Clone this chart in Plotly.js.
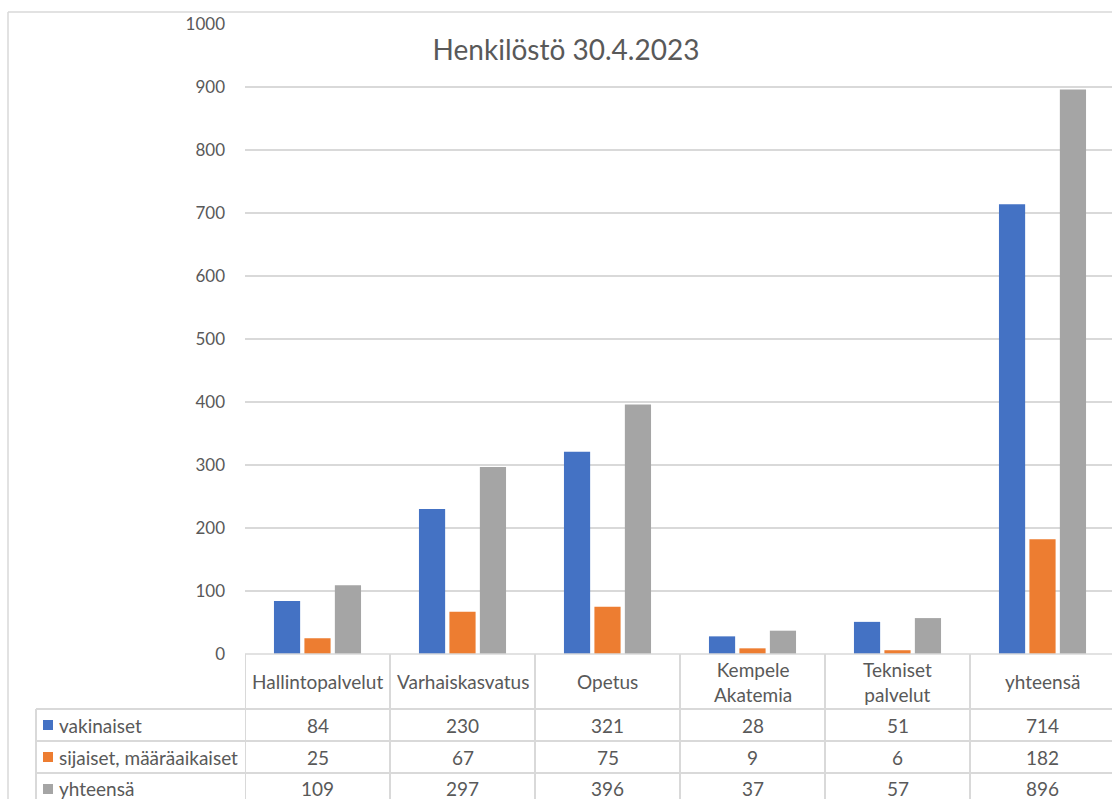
<!DOCTYPE html>
<html>
<head>
<meta charset="utf-8">
<script src="https://cdn.plot.ly/plotly-3.0.1.min.js"></script>
<style>html,body{margin:0;padding:0;background:#fff;}#chart{width:1112px;height:799px;}</style>
</head>
<body>
<div id="chart"></div>
<script>
const categories = ["Hallintopalvelut", "Varhaiskasvatus", "Opetus", "Kempele Akatemia", "Tekniset palvelut", "yhteensä"];
const headerLabels = ["Hallintopalvelut", "Varhaiskasvatus", "Opetus", "Kempele<br>Akatemia", "Tekniset<br>palvelut", "yhteensä"];
const seriesNames = ["vakinaiset", "sijaiset, määräaikaiset", "yhteensä"];
const vakinaiset = [84, 230, 321, 28, 51, 714];
const sijaiset = [25, 67, 75, 9, 6, 182];
const yhteensa = [109, 297, 396, 37, 57, 896];
const seriesColors = ["#4472C4", "#ED7D31", "#A5A5A5"];
const yTicks = [0, 100, 200, 300, 400, 500, 600, 700, 800, 900, 1000];

const seriesValues = [vakinaiset, sijaiset, yhteensa];

// layout geometry (pixels)
const W = 1112, H = 799;
const L = 245, T = 24, B = 145;
const plotW = W - L, plotH = H - T - B;
const catW = 145;
const FONT = "Lato, 'Open Sans', sans-serif";
const TXT = "#595959";
const LINE = "#d9d9d9";
const TFS = 19;

function pxToX(px) { return -0.5 + (px - L) / catW; }
function pxToPaperX(px) { return (px - L) / plotW; }
function pyToPaperY(py) { return (H - B - py) / plotH; }

const traces = seriesNames.map((name, s) => ({
  type: "bar",
  name: name,
  x: categories.map((c, i) => i),
  y: seriesValues[s],
  marker: { color: seriesColors[s] },
  hoverinfo: "y"
}));

const shapes = [];
const annotations = [];
function hline(py, x0, x1, w) {
  shapes.push({ type: "line", xref: "paper", yref: "paper",
    x0: pxToPaperX(x0), x1: pxToPaperX(x1), y0: pyToPaperY(py), y1: pyToPaperY(py),
    line: { color: LINE, width: w || 1.5 } });
}
function vlineData(xd, py0, py1, w) {
  shapes.push({ type: "line", xref: "x", yref: "paper",
    x0: xd, x1: xd, y0: pyToPaperY(py0), y1: pyToPaperY(py1),
    line: { color: LINE, width: w || 1.5 } });
}
// chart outer border (left + top)
shapes.push({ type: "line", xref: "paper", yref: "paper",
  x0: pxToPaperX(8), x1: pxToPaperX(8), y0: pyToPaperY(12), y1: pyToPaperY(H + 5),
  line: { color: LINE, width: 1.5 } });
hline(12, 8, W + 5, 1.5);

// data table lines
const rowTops = [709, 741, 773];
const rowCenters = [725, 757, 789];
hline(654, L, W + 5, 1.5);
rowTops.forEach(py => hline(py, 36, W + 5, 2));
shapes.push({ type: "line", xref: "paper", yref: "paper",
  x0: pxToPaperX(36), x1: pxToPaperX(36), y0: pyToPaperY(709), y1: pyToPaperY(H + 5),
  line: { color: LINE, width: 2 } });
for (let i = 0; i <= categories.length; i++) vlineData(i - 0.5, 654, H + 5, 2);

// header labels
headerLabels.forEach((lab, i) => {
  annotations.push({ xref: "x", yref: "paper", x: i, y: pyToPaperY(681.5),
    text: lab, showarrow: false, xanchor: "center", yanchor: "middle",
    font: { family: FONT, size: TFS, color: TXT } });
});
// value rows + legend keys
seriesNames.forEach((name, s) => {
  const cy = rowCenters[s];
  shapes.push({ type: "rect", xref: "paper", yref: "paper",
    x0: pxToPaperX(43), x1: pxToPaperX(53), y0: pyToPaperY(cy - 5), y1: pyToPaperY(cy + 5),
    fillcolor: seriesColors[s], line: { width: 0 } });
  annotations.push({ xref: "paper", yref: "paper", x: pxToPaperX(57), y: pyToPaperY(cy),
    text: name, showarrow: false, xanchor: "left", yanchor: "middle",
    font: { family: FONT, size: TFS, color: TXT } });
  seriesValues[s].forEach((v, i) => {
    annotations.push({ xref: "x", yref: "paper", x: i, y: pyToPaperY(cy),
      text: String(v), showarrow: false, xanchor: "center", yanchor: "middle",
      font: { family: FONT, size: TFS, color: TXT } });
  });
});

const layout = {
  width: W, height: H,
  margin: { l: L, r: 0, t: T, b: B, pad: 0 },
  paper_bgcolor: "#ffffff", plot_bgcolor: "#ffffff",
  title: { text: "Henkilöstö 30.4.2023", x: 566 / W, xanchor: "center",
    y: 1 - 50 / H, yanchor: "middle", yref: "container",
    font: { family: FONT, size: 28, color: TXT } },
  showlegend: false,
  barmode: "group",
  bargap: 0.37,
  bargroupgap: 0.14,
  xaxis: { range: [-0.5, pxToX(W)], showticklabels: false, showgrid: false,
    zeroline: false, showline: false, ticks: "", fixedrange: true },
  yaxis: { range: [0, 1000], tickvals: yTicks, ticktext: yTicks.map(String),
    showgrid: true, gridcolor: LINE, gridwidth: 1.5, zeroline: false, showline: false,
    ticks: "", ticklabelstandoff: 19,
    tickfont: { family: FONT, size: 17, color: TXT }, fixedrange: true },
  shapes: shapes,
  annotations: annotations
};

Plotly.newPlot("chart", traces, layout, { displayModeBar: false, staticPlot: true });
</script>
</body>
</html>
